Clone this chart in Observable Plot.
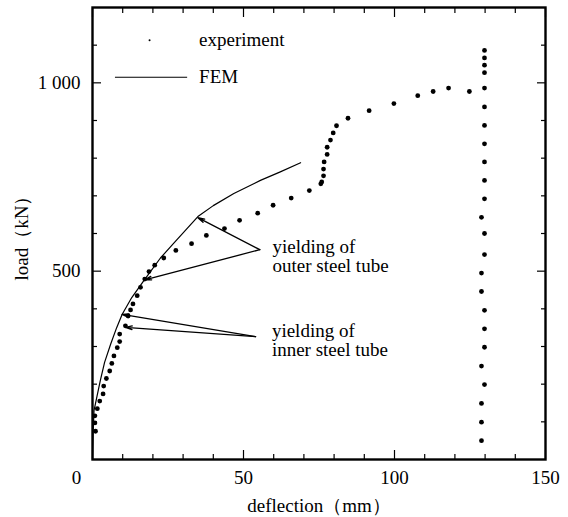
<!DOCTYPE html>
<html><head><meta charset="utf-8">
<script src="https://cdn.jsdelivr.net/npm/d3@7"></script>
<script src="https://cdn.jsdelivr.net/npm/@observablehq/plot@0.6"></script>
<style>
body{margin:0;background:#fff}
#chart svg, #chart svg text{font-family:"Liberation Serif","Times New Roman","DejaVu Serif",serif !important;}
</style>
</head><body><div id="chart"></div>
<script>
// experiment (deflection mm, load kN)
const expDeflection = [1.0,0.8,0.8,1.6,2.4,3.5,3.7,4.6,5.7,6.4,7.1,8.2,9.0,9.0,10.9,11.8,12.6,13.4,14.8,15.9,17.3,18.7,20.6,23.6,27.6,32.8,37.7,43.7,48.7,54.7,59.8,65.8,71.8,75.6,75.9,76.5,76.5,76.7,77.7,77.7,78.8,79.7,80.8,84.6,91.6,99.8,107.7,112.8,117.9,124.8,
  129.8,129.8,129.8,129.8,129.8,129.8,129.8,129.8,129.8,129.8,129.8,128.8,129.8,129.8,128.8,128.8,129.8,129.8,129.8,128.8,129.8,128.8,128.8,128.8];
const expLoad = [75,97,116,135,155,174,195,215,235,255,275,297,313,333,355,381,397,413,435,457,479,499,516,535,555,573,595,613,635,654,675,694,714,732,737,753,771,790,810,829,848,867,886,906,926,945,966,977,986,977,
  1086,1066,1047,1027,986,936,887,838,790,741,692,643,600,544,495,446,396,347,298,248,199,149,99,50];
// FEM curve
const femDeflection = [0,0.2,0.5,1.5,2.6,4.0,6.0,8.0,9.8,13.0,17.0,22.5,27.0,34.9,40.0,46.8,55.6,62.0,68.9];
const femLoad = [0,70,130,168,210,258,306,350,385,430,475,535,575,645,674,706,741,763,788];
// annotations
const noteText = ["yielding of\nouter steel tube", "yielding of\ninner steel tube"];
const noteX = [59.6, 59.4];
const noteY = [540, 317];
const arrowFromX = [55.4, 55.4, 54.0, 54.0];
const arrowFromY = [557, 557, 326, 326];
const arrowToX = [34.9, 17.3, 9.8, 10.9];
const arrowToY = [642, 477, 385, 351];
// legend
const legendLabels = ["experiment", "FEM"];
const legendTextX = 35.3;
const legendY = [1113, 1015];
const legendDotX = 18.9;
const legendLineX = [7.6, 31.5];
// axes
const xMajorTicks = [0, 50, 100, 150];
const xMinorTicks = [10, 20, 30, 40, 60, 70, 80, 90, 110, 120, 130, 140];
const yMajorTicks = [500, 1000];
const yMinorTicks = [100, 200, 300, 400, 600, 700, 800, 900, 1100];
const yTickLabels = {500: "500", 1000: "1 000"};
const xTitle = "deflection（mm）";
const yTitle = "load（kN）";

const expData = expDeflection.map((d, i) => ({x: d, y: expLoad[i]}));
const femData = femDeflection.map((d, i) => ({x: d, y: femLoad[i]}));
const notes = noteText.map((t, i) => ({t, x: noteX[i], y: noteY[i]}));
const arrows = arrowFromX.map((d, i) => ({x1: d, y1: arrowFromY[i], x2: arrowToX[i], y2: arrowToY[i]}));

const fs = 19;
const serif = "'Liberation Serif', 'Times New Roman', serif";
const tickAxis = (fn, anchor, ticks, size) => fn({anchor, ticks, tickSize: -size, tickFormat: () => "", label: null, strokeWidth: 1.2});

const plot = Plot.plot({
  width: 568, height: 517,
  marginTop: 7, marginBottom: 58, marginLeft: 92, marginRight: 23,
  style: {fontFamily: serif, fontSize: fs + "px", background: "#fff", color: "#000", overflow: "visible"},
  x: {domain: [0, 150]},
  y: {domain: [0, 1200]},
  marks: [
    tickAxis(Plot.axisX, "bottom", xMinorTicks, 5),
    tickAxis(Plot.axisX, "bottom", xMajorTicks, 9),
    tickAxis(Plot.axisX, "top", xMinorTicks, 5),
    tickAxis(Plot.axisX, "top", xMajorTicks, 9),
    tickAxis(Plot.axisY, "left", yMinorTicks, 5),
    tickAxis(Plot.axisY, "left", yMajorTicks, 9),
    tickAxis(Plot.axisY, "right", yMinorTicks, 5),
    tickAxis(Plot.axisY, "right", yMajorTicks, 9),
    Plot.axisX({anchor: "bottom", ticks: xMajorTicks.slice(1), tickSize: 0, tickPadding: 11, fontSize: fs, fontFamily: serif, label: xTitle, labelAnchor: "center", labelOffset: 52, labelArrow: "none"}),
    Plot.axisX({anchor: "bottom", ticks: xMajorTicks.slice(0, 1), tickSize: 0, tickPadding: 11, fontSize: fs, fontFamily: serif, dx: -16, label: null}),
    Plot.axisY({anchor: "left", ticks: yMajorTicks, tickSize: 0, tickPadding: 12, fontSize: fs, fontFamily: serif, tickFormat: d => yTickLabels[d], label: yTitle, labelAnchor: "center", labelOffset: 78, labelArrow: "none"}),
    Plot.frame({strokeWidth: 2.4}),
    Plot.line(femData, {x: "x", y: "y", stroke: "#000", strokeWidth: 1.2}),
    Plot.dot(expData, {x: "x", y: "y", r: 2.4, fill: "#000", stroke: null}),
    Plot.arrow(arrows, {x1: "x1", y1: "y1", x2: "x2", y2: "y2", stroke: "#000", strokeWidth: 1.3, headLength: 8, headAngle: 30}),
    Plot.text(notes, {x: "x", y: "y", text: "t", textAnchor: "start", lineAnchor: "middle", lineHeight: 1.05, fontSize: fs, fontFamily: serif, fill: "#000"}),
    Plot.dot([legendY[0]], {x: legendDotX, y: d => d, r: 1, fill: "#000", stroke: null}),
    Plot.ruleY([legendY[1]], {x1: legendLineX[0], x2: legendLineX[1], stroke: "#000", strokeWidth: 1.1}),
    Plot.text(legendLabels, {x: legendTextX, y: (d, i) => legendY[i], text: d => d, textAnchor: "start", fontSize: fs, fontFamily: serif, fill: "#000"})
  ]
});
document.getElementById("chart").append(plot);
</script>
</body></html>
